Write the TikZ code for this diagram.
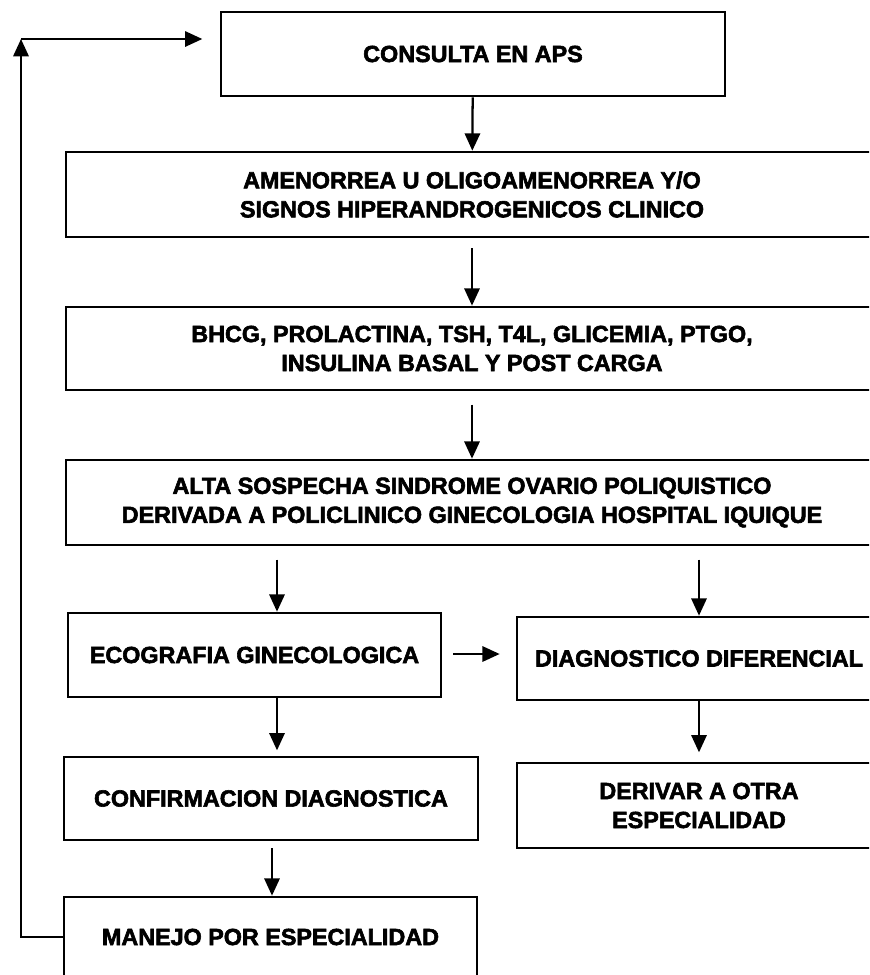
\documentclass[tikz,border=0pt]{standalone}
\usepackage{fontspec}
\setmainfont{Liberation Sans}[BoldFeatures={FakeBold=2.5}]
\usetikzlibrary{arrows.meta}
\begin{document}
\begin{tikzpicture}[x=0.75pt,y=-0.75pt,
  box/.style={draw,line width=2pt,rectangle,inner sep=0pt,align=center,
    font=\fontsize{17.5}{21.75}\selectfont\bfseries},
  arr/.style={line width=1.7pt,-{Triangle[length=13pt,width=11.5pt]}}]
\useasboundingbox (0,0) rectangle (869,975);
\clip (0,0) rectangle (869,975);

% main column
\node[box,minimum width=378pt,minimum height=63pt] (b1) at (473,54) {CONSULTA EN APS};
\node[box,minimum width=609pt,minimum height=63.75pt] (b2) at (472,194.5)
  {AMENORREA U OLIGOAMENORREA Y/O\\SIGNOS HIPERANDROGENICOS CLINICO};
\node[box,minimum width=609pt,minimum height=62.25pt] (b3) at (472,348.5)
  {BHCG, PROLACTINA, TSH, T4L, GLICEMIA, PTGO,\\INSULINA BASAL Y POST CARGA};
\node[box,minimum width=609pt,minimum height=63.75pt] (b4) at (472,502.5)
  {ALTA SOSPECHA SINDROME OVARIO POLIQUISTICO\\DERIVADA A POLICLINICO GINECOLOGIA HOSPITAL IQUIQUE};

% left branch
\node[box,minimum width=279.75pt,minimum height=63pt] (b5) at (254.5,655) {ECOGRAFIA GINECOLOGICA};
\node[box,minimum width=310.5pt,minimum height=62.25pt] (b7) at (271,798.5) {CONFIRMACION DIAGNOSTICA};
\node[box,minimum width=309.75pt,minimum height=60pt] (b8) at (270.5,937) {MANEJO POR ESPECIALIDAD};

% right branch
\node[box,minimum width=273pt,minimum height=62.25pt] (b6) at (699,658.5) {DIAGNOSTICO DIFERENCIAL};
\node[box,minimum width=273pt,minimum height=63.75pt] (b9) at (699,805.5) {DERIVAR A OTRA\\ESPECIALIDAD};

% column positions of the branch arrows
\coordinate (xl) at (277,0);
\coordinate (xr) at (699,0);

\draw[arr] (b1) -- (b2);
\draw[arr,shorten <=7.5pt] (b2) -- (b3);
\draw[arr,shorten <=10pt] (b3) -- (b4);
\draw[arr,shorten <=10pt] (b4.south -| xl) -- (b5.north -| xl);
\draw[arr,shorten <=10pt] (b4.south -| xr) -- (b6.north -| xr);
\draw[arr,shorten <=8pt,shorten >=12pt] (b5.east |- 0,654) -- (b6.west |- 0,654);
\draw[arr,shorten >=4pt] (b5.south -| xl) -- (b7.north -| xl);
\draw[arr,shorten >=7pt] (b6.south -| xr) -- (b9.north -| xr);
\draw[arr,shorten <=5pt] (b7.south -| 272,0) -- (b8.north -| 272,0);

% feedback loop back to the first consultation
\coordinate (lb) at (21,937);
\coordinate (lt) at (21,39);
\draw[arr] (b8.west) -- (lb) -- (lt);
\draw[arr,shorten >=13pt] (lt) -- (lt -| b1.west);
\end{tikzpicture}
\end{document}
